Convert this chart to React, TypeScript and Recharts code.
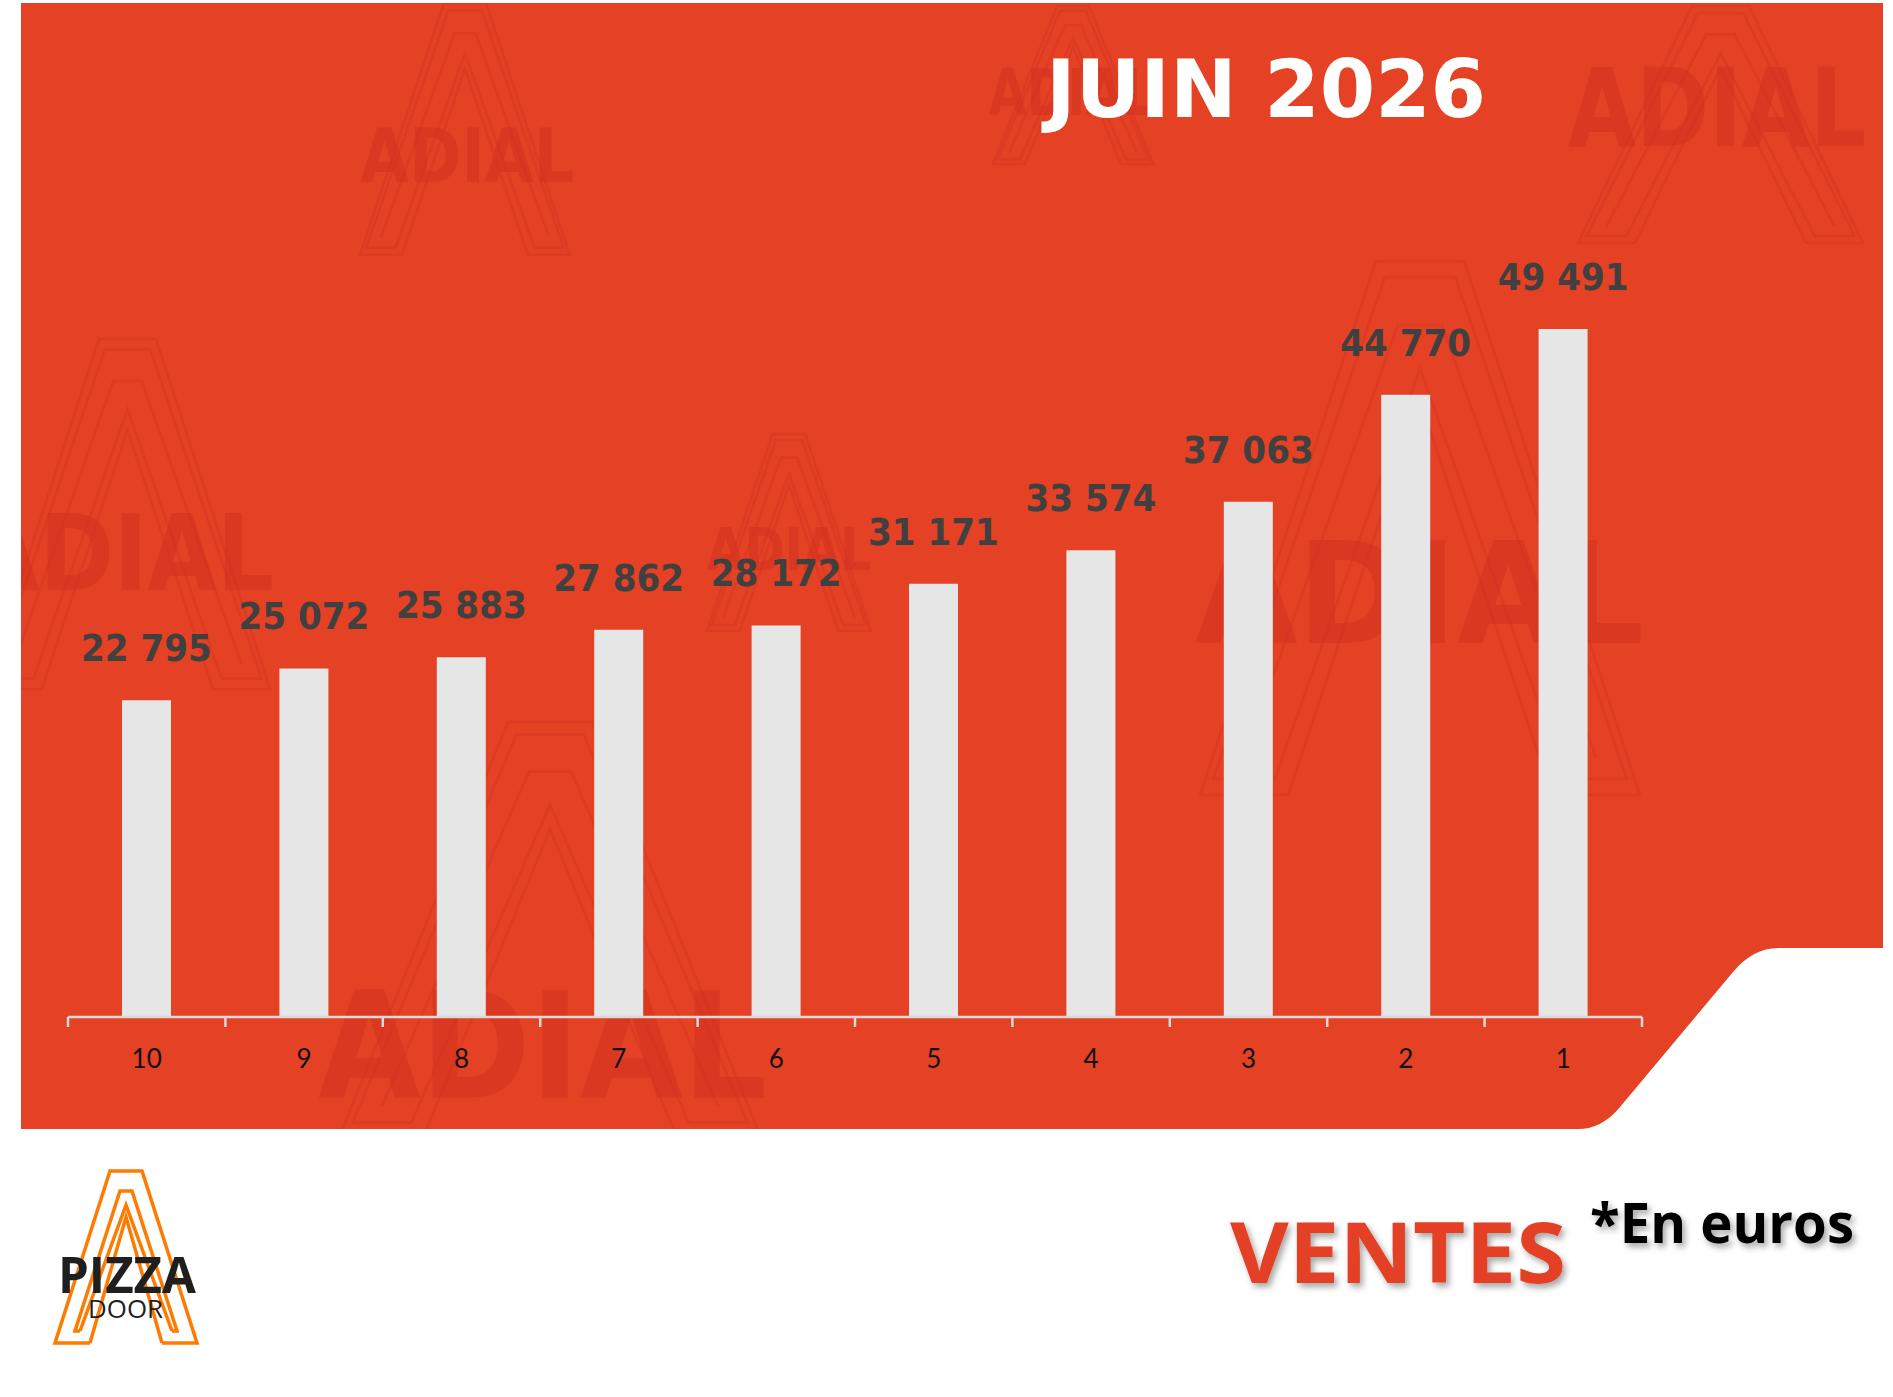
import React from 'react';
import { BarChart, Bar, XAxis, YAxis, LabelList } from 'recharts';

// ---- data ----
const categories = ['10', '9', '8', '7', '6', '5', '4', '3', '2', '1'];
const sales = [22795, 25072, 25883, 27862, 28172, 31171, 33574, 37063, 44770, 49491];
const titleText = 'JUIN 2026';
const subtitleText = 'VENTES';
const unitText = '*En euros';

const data = categories.map((c, i) => ({ rank: c, ventes: sales[i] }));

// ---- style ----
const W = 1893;
const H = 1397;
const RED = '#E44125';
const BAR = '#E6E6E6';
const AXIS = '#D9D9D9';
const LABEL = '#404040';
const WM = '#D2301F';

const fmt = (v: number) => {
  const t = Math.floor(v / 1000);
  const r = v % 1000;
  return `${t} ${String(r).padStart(3, '0')}`;
};

const redPath =
  'M 21 3 L 1883 3 L 1883 948 L 1778 948 Q 1753 948 1733 972 L 1620 1107 Q 1602 1129 1578 1129 L 21 1129 Z';

const marks = [
  { x: 360, y: 3, w: 210, h: 252, tx: 360, ty: 182, tw: 214, ts: 75 },
  { x: 993, y: 6, w: 160, h: 158, tx: 989, ty: 115, tw: 165, ts: 64 },
  { x: 1578, y: 6, w: 285, h: 237, tx: 1568, ty: 146, tw: 298, ts: 108 },
  { x: -15, y: 339, w: 285, h: 350, tx: -30, ty: 590, tw: 304, ts: 105 },
  { x: 707, y: 434, w: 164, h: 197, tx: 707, ty: 570, tw: 164, ts: 58 },
  { x: 1200, y: 261, w: 440, h: 534, tx: 1195, ty: 643, tw: 449, ts: 140 },
  { x: 340, y: 722, w: 420, h: 413, tx: 318, ty: 1098, tw: 449, ts: 148 },
];

const Watermark = ({ m }: { m: (typeof marks)[number] }) => {
  const { x, y, w, h } = m;
  const p = (a: number, b: number) => `${x + a * w},${y + b * h}`;
  return (
    <g>
      <g fill="none" stroke={WM} strokeOpacity={0.35} strokeWidth={2.5}>
        <polyline points={[p(0.2, 1), p(0, 1), p(0.4, 0), p(0.6, 0), p(1, 1), p(0.8, 1)].join(' ')} />
        <polyline points={[p(0.17, 0.97), p(0.03, 0.97), p(0.42, 0.03), p(0.58, 0.03), p(0.97, 0.97), p(0.83, 0.97)].join(' ')} />
        <polyline points={[p(0.1, 0.93), p(0.45, 0.12), p(0.55, 0.12), p(0.9, 0.93)].join(' ')} />
        <polyline points={[p(0.2, 1), p(0.5, 0.26), p(0.8, 1)].join(' ')} />
        <polyline points={[p(0.17, 0.97), p(0.5, 0.2), p(0.83, 0.97)].join(' ')} />
      </g>
      <text
        x={m.tx}
        y={m.ty}
        fontFamily="'DejaVu Sans', sans-serif"
        fontWeight={700}
        fontSize={m.ts}
        textLength={m.tw}
        lengthAdjust="spacingAndGlyphs"
        fill={WM}
        fillOpacity={0.5}
      >
        ADIAL
      </text>
    </g>
  );
};

const Tick = (props: any) => {
  const { x, y, payload, index, visibleTicksCount } = props;
  const half = payload && typeof payload.offset === 'number' ? payload.offset : 0;
  return (
    <g>
      <line x1={x - half} x2={x - half} y1={y} y2={y + 10} stroke={AXIS} strokeWidth={2.5} />
      {index === visibleTicksCount - 1 && (
        <line x1={x + half} x2={x + half} y1={y} y2={y + 10} stroke={AXIS} strokeWidth={2.5} />
      )}
      <text x={x} y={y + 51} textAnchor="middle" fontFamily="Lato, sans-serif" fontSize={26} fill="#111">
        {payload.value}
      </text>
    </g>
  );
};

const renderLabel = (p: any) => {
  const x = Number(p.x) + Number(p.width) / 2;
  const y = Number(p.y) - 39;
  return (
    <text
      x={x}
      y={y}
      textAnchor="middle"
      fontFamily="'DejaVu Sans Condensed', 'DejaVu Sans', sans-serif"
      fontStretch="condensed"
      fontWeight={700}
      fontSize={38}
      fill={LABEL}
    >
      {fmt(Number(p.value))}
    </text>
  );
};

export default function App() {
  return (
    <div style={{ position: 'absolute', left: 0, top: 0, width: W, height: H, background: '#fff', overflow: 'hidden' }}>
      <svg width={W} height={H} style={{ position: 'absolute', left: 0, top: 0 }}>
        <defs>
          <clipPath id="redClip">
            <path d={redPath} />
          </clipPath>
        </defs>
        <path d={redPath} fill={RED} />
        <g clipPath="url(#redClip)">
          {marks.map((m, i) => (
            <Watermark key={i} m={m} />
          ))}
        </g>
      </svg>

      <div style={{ position: 'absolute', left: 0, top: 0 }}>
        <BarChart width={W} height={H} data={data} margin={{ top: 183, right: 251, bottom: 320, left: 68 }}>
          <XAxis
            dataKey="rank"
            interval={0}
            height={60}
            tickSize={0}
            tickMargin={0}
            tickLine={false}
            axisLine={{ stroke: AXIS, strokeWidth: 2.5 }}
            tick={<Tick />}
          />
          <YAxis hide domain={[0, 60000]} />
          <Bar dataKey="ventes" fill={BAR} barSize={49} isAnimationActive={false}>
            <LabelList dataKey="ventes" content={renderLabel} />
          </Bar>
        </BarChart>
      </div>

      <svg width={W} height={H} style={{ position: 'absolute', left: 0, top: 0, pointerEvents: 'none' }}>
        <defs>
          <filter id="shadow" x="-10%" y="-20%" width="130%" height="150%">
            <feDropShadow dx="3" dy="4" stdDeviation="3" floodColor="#000" floodOpacity="0.35" />
          </filter>
        </defs>
        <text
          x={1046}
          y={117}
          fontFamily="'DejaVu Sans', sans-serif"
          fontWeight={700}
          fontSize={81}
          textLength={440}
          lengthAdjust="spacingAndGlyphs"
          fill="#fff"
        >
          {titleText}
        </text>
        <text
          x={1230}
          y={1283}
          fontFamily="'Open Sans', sans-serif"
          fontWeight={700}
          fontSize={85}
          textLength={336}
          lengthAdjust="spacingAndGlyphs"
          fill={RED}
          filter="url(#shadow)"
        >
          {subtitleText}
        </text>
        <text
          x={1590}
          y={1243}
          fontFamily="'Open Sans', sans-serif"
          fontWeight={700}
          fontSize={55}
          textLength={264}
          lengthAdjust="spacingAndGlyphs"
          fill="#000"
          filter="url(#shadow)"
        >
          {unitText}
        </text>

        {/* logo */}
        <g fill="none" stroke="#FF7A00" strokeWidth={3.5} strokeLinejoin="miter">
          <polyline points="90,1343 55,1343 110,1171 142,1171 197,1343 162,1343" />
          <polyline points="80,1331 75,1331 120,1191 132,1191 177,1331 172,1331" />
          <polyline points="90,1343 126,1217 162,1343" />
          <polyline points="80,1331 126,1205 172,1331" />
        </g>
        <text
          x={58}
          y={1293}
          fontFamily="'Open Sans', sans-serif"
          fontWeight={700}
          fontSize={50}
          textLength={138}
          lengthAdjust="spacingAndGlyphs"
          fill="#1f1f1f"
        >
          PIZZA
        </text>
        <text
          x={88}
          y={1318}
          fontFamily="'Open Sans', sans-serif"
          fontWeight={500}
          fontSize={25}
          textLength={75}
          lengthAdjust="spacingAndGlyphs"
          fill="#1f1f1f"
        >
          DOOR
        </text>
      </svg>
    </div>
  );
}
